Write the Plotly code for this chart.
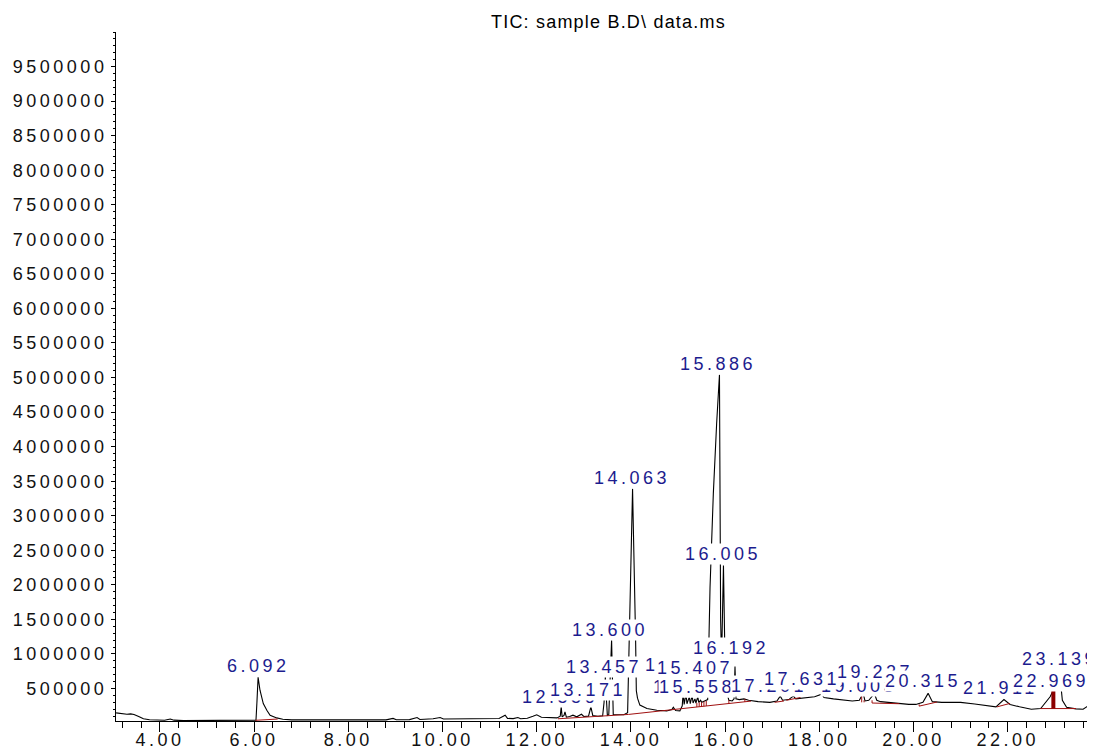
import plotly.graph_objects as go

# ---------------- data ----------------
# TIC trace: retention time (min) and abundance (counts)
tic_time = [
    3.07, 3.15, 3.22, 3.30, 3.38, 3.45, 3.55, 3.65, 3.78, 3.95, 4.10, 4.22, 4.30, 4.50, 4.80,
    5.10, 5.40, 5.70, 5.95, 6.04, 6.06, 6.085, 6.125, 6.195, 6.27, 6.34, 6.48, 6.61, 6.80, 7.20,
    7.60, 8.00, 8.40, 8.80, 8.95, 9.02, 9.30, 9.46, 9.52, 9.80, 9.88, 9.95, 10.02, 10.40, 10.80,
    11.20, 11.33, 11.38, 11.50, 11.60, 11.66, 11.80, 11.92, 12.00, 12.10, 12.30, 12.43, 12.50, 12.52, 12.54,
    12.58, 12.60, 12.63, 12.70, 12.77, 12.85, 12.95, 13.00, 13.10, 13.15, 13.19, 13.30, 13.40, 13.43, 13.457,
    13.48, 13.50, 13.53, 13.59, 13.625, 13.70, 13.85, 13.93, 14.035, 14.10, 14.115, 14.14, 14.19, 14.34, 14.55,
    14.76, 14.87, 14.90, 14.95, 15.04, 15.09, 15.11, 15.13, 15.17, 15.19, 15.24, 15.26, 15.30, 15.32, 15.36,
    15.38, 15.42, 15.44, 15.48, 15.50, 15.53, 15.58, 15.63, 15.68, 15.715, 15.75, 15.82, 15.88, 15.905, 15.925,
    15.965, 16.00, 16.03, 16.08, 16.15, 16.19, 16.21, 16.23, 16.30, 16.40, 16.50, 16.70, 16.95, 17.10, 17.17,
    17.22, 17.35, 17.45, 17.50, 17.65, 17.80, 17.90, 18.05, 18.10, 18.30, 18.50, 18.70, 18.85, 18.93, 18.97,
    19.05, 19.17, 19.22, 19.30, 19.45, 19.60, 19.90, 20.05, 20.20, 20.31, 20.40, 20.60, 20.80, 21.00, 21.30,
    21.55, 21.75, 21.92, 22.05, 22.25, 22.50, 22.70, 22.80, 22.90, 22.969, 23.05, 23.139, 23.16, 23.25, 23.45,
    23.60, 23.72, 23.80, 23.86, 23.95, 24.02,
]
tic_abundance = [
    147000, 140000, 142000, 128000, 133000, 125000, 95000, 62000, 48000, 41000, 40000, 58000, 42000, 36000, 35000,
    34000, 35000, 38000, 40000, 42000, 300000, 663000, 475000, 283000, 186000, 114000, 75000, 56000, 47000, 44000,
    45000, 43000, 46000, 47000, 68000, 48000, 50000, 80000, 52000, 62000, 66000, 80000, 58000, 60000, 62000,
    66000, 114000, 68000, 64000, 80000, 62000, 70000, 99000, 120000, 85000, 78000, 75000, 100000, 234000, 90000,
    110000, 161000, 85000, 95000, 114000, 90000, 128000, 95000, 100000, 234000, 110000, 99000, 105000, 300000, 670000,
    350000, 110000, 120000, 1200000, 125000, 125000, 120000, 150000, 3390000, 1200000, 470000, 360000, 260000, 211000, 186000,
    176000, 196000, 228000, 182000, 176000, 250000, 450000, 270000, 420000, 280000, 380000, 280000, 400000, 290000, 350000,
    290000, 380000, 300000, 330000, 300000, 310000, 320000, 340000, 1970000, 2650000, 3320000, 4330000, 5040000, 1500000, 900000,
    2280000, 800000, 450000, 330000, 320000, 350000, 820000, 350000, 340000, 350000, 330000, 310000, 300000, 320000, 390000,
    330000, 340000, 390000, 350000, 360000, 370000, 380000, 418000, 370000, 350000, 335000, 320000, 330000, 432000, 320000,
    330000, 428000, 330000, 310000, 300000, 283000, 270000, 270000, 300000, 430000, 310000, 300000, 305000, 300000, 275000,
    250000, 235000, 341000, 270000, 235000, 200000, 210000, 287000, 380000, 475000, 700000, 475000, 330000, 230000, 205000,
    200000, 255000, 240000, 250000, 245000, 240000,
]

# integration baselines (start time, start level, end time, end level)
base_t0 = [6.03, 12.45, 13.95, 17.05, 17.30, 19.12, 20.12, 21.77, 22.69]
base_v0 = [40000, 62000, 125000, 300000, 330000, 290000, 245000, 234000, 210000]
base_t1 = [6.50, 13.95, 16.55, 17.25, 17.60, 19.70, 20.50, 22.05, 23.45]
base_v1 = [58000, 125000, 318000, 320000, 370000, 280000, 305000, 285000, 210000]

# integration drop lines (time, low level, high level)
drop_t = [15.40, 15.45, 15.50, 15.55, 15.60, 16.08, 16.42, 17.22, 18.90, 18.95, 19.12, 20.12]
drop_lo = [233000, 237000, 240000, 244000, 248000, 280000, 305000, 318000, 300000, 300000, 290000, 245000]
drop_hi = [290000, 300000, 300000, 310000, 320000, 330000, 350000, 330000, 400000, 330000, 330000, 270000]
main_drop_t = [22.969]
main_drop_lo = [210000]
main_drop_hi = [470000]

# peak labels (text, time and level of the label centre), listed in drawing order
label_text = ["6.092", "12.556", "13.171", "13.457", "13.600", "14.063", "15.146", "15.407", "15.256",
              "15.558", "15.886", "16.005", "16.192", "17.201", "19.003", "17.631", "19.227", "20.315",
              "21.911", "22.969", "23.139"]
label_time = [6.10, 12.50, 13.09, 13.42, 13.555, 14.02, 15.10, 15.36, 15.27,
              15.40, 15.85, 15.955, 16.12, 16.93, 18.84, 17.63, 19.18, 20.20,
              21.84, 22.92, 23.11]
label_level = [822700, 374100, 475400, 808300, 1343000, 3543000, 837000, 793600, 518000,
               518000, 5193000, 2444000, 1083000, 534000, 534000, 634500, 735900, 605600,
               504300, 605600, 921700]

x_tick_vals = [4, 6, 8, 10, 12, 14, 16, 18, 20, 22, 24]
x_tick_text = ["4.00", "6.00", "8.00", "10.00", "12.00", "14.00", "16.00", "18.00", "20.00", "22.00", "24.00"]
y_tick_vals = [500000 * k for k in range(1, 20)]
y_tick_text = [str(v) for v in y_tick_vals]

title_text = "TIC: sample B.D\\ data.ms"

# ---------------- figure ----------------
FONT = "Liberation Sans, Arial, sans-serif"
LABEL_BLUE = "#1c1c8e"
RED = "#a01010"


def spaced(s, sp=3.5):
    return f'<span style="letter-spacing:{sp}px">{s}</span>'


fig = go.Figure()

fig.add_trace(go.Scatter(x=tic_time, y=tic_abundance, mode="lines",
                         line=dict(color="#000000", width=1.1), hoverinfo="skip"))

bx, by = [], []
for t0, v0, t1, v1 in zip(base_t0, base_v0, base_t1, base_v1):
    bx += [t0, t1, None]
    by += [v0, v1, None]
for t, lo, hi in zip(drop_t, drop_lo, drop_hi):
    bx += [t, t, None]
    by += [lo, hi, None]
fig.add_trace(go.Scatter(x=bx, y=by, mode="lines", line=dict(color=RED, width=1),
                         hoverinfo="skip", connectgaps=False))

mx, my = [], []
for t, lo, hi in zip(main_drop_t, main_drop_lo, main_drop_hi):
    mx += [t, t, None]
    my += [lo, hi, None]
fig.add_trace(go.Scatter(x=mx, y=my, mode="lines", line=dict(color="#8b0000", width=4),
                         hoverinfo="skip"))

for txt, t, v in zip(label_text, label_time, label_level):
    fig.add_annotation(x=t, y=v, xref="x", yref="y", text=spaced(txt, 3.5),
                       showarrow=False, xanchor="center", yanchor="middle",
                       font=dict(family=FONT, size=18, color=LABEL_BLUE),
                       bgcolor="#ffffff", borderpad=0)

fig.add_annotation(x=(608.4 - 116) / 987, y=(720.7 - 21.5) / 689, xref="paper", yref="paper",
                   text=spaced(title_text, 1.2), showarrow=False, xanchor="center", yanchor="middle",
                   font=dict(family=FONT, size=18, color="#000000"))

axis_common = dict(showline=True, linecolor="#000000", linewidth=1, showgrid=False, zeroline=False,
                   ticks="outside", tickcolor="#000000", tickmode="array", automargin=False,
                   tickfont=dict(family=FONT, size=18, color="#111111"))

fig.update_layout(
    width=1095, height=751,
    margin=dict(l=108, r=0, t=24, b=38, autoexpand=False),
    paper_bgcolor="#ffffff", plot_bgcolor="#ffffff",
    showlegend=False,
    xaxis=dict(range=[3.068, 24.023], tickvals=x_tick_vals,
               ticktext=[spaced(s) for s in x_tick_text], ticklen=10, ticklabelstandoff=-8,
               minor=dict(tickmode="linear", tick0=0, dtick=0.4, ticklen=6, ticks="outside",
                          tickcolor="#000000", showgrid=False),
               **axis_common),
    yaxis=dict(range=[30000, 10000000], tickvals=y_tick_vals,
               ticktext=[spaced(s) for s in y_tick_text], ticklen=4,
               minor=dict(tickmode="linear", tick0=0, dtick=100000, ticklen=2, ticks="outside",
                          tickcolor="#000000", showgrid=False),
               **axis_common),
)

fig.write_html("out.html")
